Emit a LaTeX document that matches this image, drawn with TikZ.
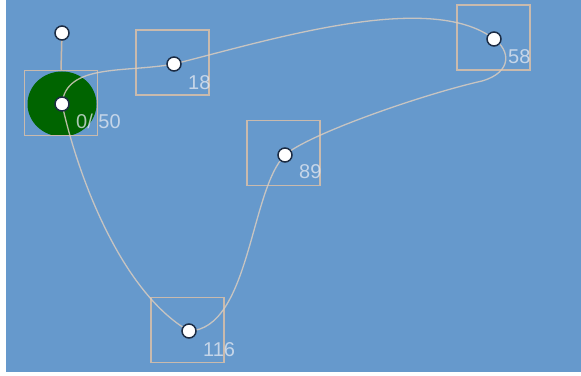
\documentclass[tikz,border=0pt]{standalone}
\usepackage{fontspec}
\setmainfont{Liberation Sans}
\begin{document}
\begin{tikzpicture}[x=1pt,y=1pt,
  framebox/.style={draw=boxcol,line width=1.5pt,minimum width=73pt,minimum height=65pt,inner sep=0pt},
  dot/.style={circle,fill=white,draw=dotcol,line width=1.5pt,minimum size=14pt,inner sep=0pt},
  link/.style={draw=linkcol,line width=1.3pt,draw opacity=0.85},
  lab/.style={anchor=west,text=labcol,text opacity=0.75,font=\fontsize{20}{20}\selectfont,inner sep=0pt}]
\definecolor{bgblue}{HTML}{6699CC}
\definecolor{boxcol}{HTML}{C9BAAD}
\definecolor{dotcol}{HTML}{1C2C44}
\definecolor{linkcol}{HTML}{D8CCC0}
\definecolor{labcol}{HTML}{E6EAF2}
\definecolor{darkgreen}{HTML}{006400}
\useasboundingbox (0,0) rectangle (581,375);
\fill[white] (0,0) rectangle (581,375);
\fill[bgblue] (6,3) rectangle (581,375);
% positions
\coordinate (pa) at (62,271);
\coordinate (pb) at (174,311);
\coordinate (pc) at (494,336);
\coordinate (pd) at (285,220);
\coordinate (pe) at (189,44);
\coordinate (ph) at (62,342);
\coordinate (q1) at (482,294);
% green disc
\begin{scope}
  \clip (24,239) rectangle (98,305);
  \fill[darkgreen] (62,271) ellipse [x radius=34.5, y radius=32.5];
\end{scope}
% frames
\node[framebox] (fa) at (61,272) {};
\node[framebox] (fb) at (172.5,312.5) {};
\node[framebox] (fc) at (493.5,337.5) {};
\node[framebox] (fd) at (283.5,222) {};
\node[framebox] (fe) at (187.5,45) {};
% handle stem
\draw[draw=boxcol,line width=1.5pt] (ph) -- (fa.north);
% links
\draw[link] (pa) .. controls (66,312) and (125,302) .. (pb);
\draw[link] (pb) .. controls (270,335) and (430,385) .. (pc);
\draw[link] (pc) .. controls (510,325) and (513,303) .. (q1)
                 .. controls (420,280) and (307,240) .. (pd);
\draw[link] (pd) .. controls (250,185) and (250,46) .. (pe);
\draw[link] (pe) .. controls (120,84) and (77,202) .. (pa);
% labels
\node[lab] (la) at ([shift={(14,-17)}]pa) {0/ 50};
\node[lab] (lb) at ([shift={(14,-19)}]pb) {18};
\node[lab] (lc) at ([shift={(14,-18)}]pc) {58};
\node[lab] (ld) at ([shift={(14,-17)}]pd) {89};
\node[lab] (le) at ([shift={(14,-19)}]pe) {116};
% dots
\node[dot] (a) at (pa) {};
\node[dot] (b) at (pb) {};
\node[dot] (c) at (pc) {};
\node[dot] (d) at (pd) {};
\node[dot] (e) at (pe) {};
\node[dot] (h) at (ph) {};
\end{tikzpicture}
\end{document}
